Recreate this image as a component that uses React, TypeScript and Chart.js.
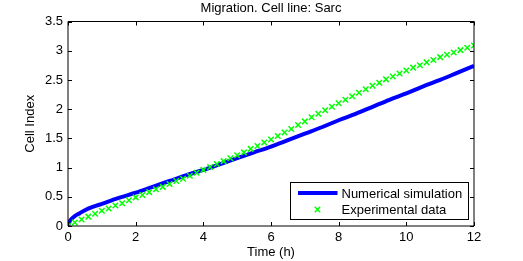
import React, { useEffect, useRef } from 'react';
import { Chart, registerables } from 'chart.js';

Chart.register(...registerables);

const chartTitle = 'Migration. Cell line: Sarc';
const xAxisLabel = 'Time (h)';
const yAxisLabel = 'Cell Index';
const simName = 'Numerical simulation';
const expName = 'Experimental data';

const xTickValues = [0, 2, 4, 6, 8, 10, 12];
const yTickValues = [0, 0.5, 1, 1.5, 2, 2.5, 3, 3.5];

const simTimes = [0, 0.05, 0.1, 0.2, 0.35, 0.5, 0.75, 1, 1.5, 2, 2.5, 3, 3.5, 4, 4.5, 5, 5.5, 6, 6.5, 7, 7.5, 8, 8.5, 9, 9.5, 10, 10.5, 11, 11.5, 12];
const simValues = [0, 0.08, 0.12, 0.17, 0.22, 0.27, 0.33, 0.38, 0.48, 0.57, 0.67, 0.77, 0.87, 0.96, 1.06, 1.16, 1.26, 1.36, 1.47, 1.58, 1.69, 1.81, 1.92, 2.04, 2.16, 2.27, 2.39, 2.5, 2.62, 2.74];

const expTimes = [
  0, 0.2, 0.4, 0.6, 0.8, 1, 1.2, 1.4, 1.6, 1.8,
  2, 2.2, 2.4, 2.6, 2.8, 3, 3.2, 3.4, 3.6, 3.8,
  4, 4.2, 4.4, 4.6, 4.8, 5, 5.2, 5.4, 5.6, 5.8,
  6, 6.2, 6.4, 6.6, 6.8, 7, 7.2, 7.4, 7.6, 7.8,
  8, 8.2, 8.4, 8.6, 8.8, 9, 9.2, 9.4, 9.6, 9.8,
  10, 10.2, 10.4, 10.6, 10.8, 11, 11.2, 11.4, 11.6, 11.8, 12,
];
const expValues = [
  0, 0.06, 0.11, 0.16, 0.21, 0.26, 0.3, 0.35, 0.39, 0.44,
  0.49, 0.53, 0.58, 0.63, 0.67, 0.72, 0.77, 0.81, 0.86, 0.91,
  0.96, 1.01, 1.06, 1.11, 1.16, 1.21, 1.26, 1.32, 1.37, 1.43,
  1.48, 1.54, 1.6, 1.66, 1.73, 1.79, 1.86, 1.92, 1.98, 2.04,
  2.1, 2.16, 2.22, 2.28, 2.34, 2.4, 2.45, 2.51, 2.56, 2.61,
  2.66, 2.71, 2.75, 2.8, 2.84, 2.89, 2.93, 2.97, 3.01, 3.05, 3.09,
];

const FONT_FAMILY = '"Liberation Sans", Arial, Helvetica, sans-serif';
const BLUE = '#0000ff';
const GREEN = '#00ff00';

const matlabPlugin = {
  id: 'matlabDecor',
  afterDatasetsDraw(chart: any) {
    const { ctx, chartArea: a } = chart;
    const xs = chart.scales.x;
    const ys = chart.scales.y;
    ctx.save();
    // axes box
    ctx.strokeStyle = '#000';
    ctx.lineWidth = 1;
    ctx.beginPath();
    ctx.moveTo(a.left, a.top);
    ctx.lineTo(a.right, a.top);
    ctx.moveTo(a.left, a.top);
    ctx.lineTo(a.left, a.bottom);
    ctx.lineTo(a.right, a.bottom);
    ctx.lineTo(a.right, a.top);
    ctx.stroke();
    // inward ticks
    const tl = 4;
    ctx.beginPath();
    xs.ticks.forEach((t: any) => {
      const px = Math.round(xs.getPixelForValue(t.value)) + 0.5;
      ctx.moveTo(px, a.bottom);
      ctx.lineTo(px, a.bottom - tl);
      ctx.moveTo(px, a.top);
      ctx.lineTo(px, a.top + tl);
    });
    ys.ticks.forEach((t: any) => {
      const py = Math.round(ys.getPixelForValue(t.value)) + 0.5;
      ctx.moveTo(a.left, py);
      ctx.lineTo(a.left + tl, py);
      ctx.moveTo(a.right, py);
      ctx.lineTo(a.right - tl, py);
    });
    ctx.stroke();

    // title
    ctx.fillStyle = '#000';
    ctx.font = `13px ${FONT_FAMILY}`;
    ctx.textAlign = 'center';
    ctx.textBaseline = 'alphabetic';
    ctx.fillText(chartTitle, (a.left + a.right) / 2, 12);

    // legend
    const bw = 178;
    const bh = 37;
    const bx = Math.round(a.right - 6 - bw) + 0.5;
    const by = Math.round(a.bottom - 7 - bh) + 0.5;
    ctx.fillStyle = '#fff';
    ctx.fillRect(bx, by, bw, bh);
    ctx.strokeStyle = '#000';
    ctx.lineWidth = 1;
    ctx.strokeRect(bx, by, bw, bh);
    // line sample
    ctx.strokeStyle = BLUE;
    ctx.lineWidth = 4;
    ctx.beginPath();
    ctx.moveTo(bx + 7.5, by + 10.5);
    ctx.lineTo(bx + 47, by + 10.5);
    ctx.stroke();
    // marker sample
    const mx = bx + 27;
    const my = by + 27;
    const r = 2.7;
    ctx.strokeStyle = GREEN;
    ctx.lineWidth = 1.5;
    ctx.beginPath();
    ctx.moveTo(mx - r, my - r);
    ctx.lineTo(mx + r, my + r);
    ctx.moveTo(mx - r, my + r);
    ctx.lineTo(mx + r, my - r);
    ctx.stroke();
    // legend text
    ctx.fillStyle = '#000';
    ctx.textAlign = 'left';
    ctx.fillText(simName, bx + 51, by + 15.2);
    ctx.fillText(expName, bx + 51, by + 31);
    ctx.restore();
  },
};

export default function App() {
  const ref = useRef<HTMLCanvasElement>(null);
  useEffect(() => {
    const font = { family: FONT_FAMILY, size: 13 };
    const chart = new Chart(ref.current as HTMLCanvasElement, {
      type: 'scatter',
      data: {
        datasets: [
          {
            label: expName,
            data: expTimes.map((t, i) => ({ x: t, y: expValues[i] })),
            showLine: false,
            pointStyle: 'crossRot',
            pointRadius: 3.9,
            pointBorderWidth: 1.5,
            borderColor: GREEN,
            backgroundColor: GREEN,
            order: 0,
          },
          {
            label: simName,
            data: simTimes.map((t, i) => ({ x: t, y: simValues[i] })),
            showLine: true,
            pointRadius: 0,
            borderWidth: 4,
            borderColor: BLUE,
            backgroundColor: BLUE,
            cubicInterpolationMode: 'monotone',
            order: 1,
          },
        ],
      },
      options: {
        responsive: false,
        animation: false,
        devicePixelRatio: 1,
        layout: { padding: { left: 0, right: 49, top: 21.5, bottom: 0 } },
        plugins: {
          legend: { display: false },
          title: { display: false },
          tooltip: { enabled: false },
        },
        scales: {
          x: {
            type: 'linear',
            min: 0,
            max: 12,
            afterBuildTicks: (s: any) => {
              s.ticks = xTickValues.map((v) => ({ value: v }));
            },
            ticks: {
              color: '#000',
              font,
              padding: 4,
              maxRotation: 0,
              autoSkip: false,
              callback: (v: any) => String(v),
            },
            grid: { display: false, drawTicks: false },
            border: { display: false },
            title: {
              display: true,
              text: xAxisLabel,
              color: '#000',
              font,
              padding: { top: 0, bottom: 1 },
            },
            afterFit: (s: any) => {
              s.height = 35;
            },
          },
          y: {
            type: 'linear',
            min: 0,
            max: 3.5,
            afterBuildTicks: (s: any) => {
              s.ticks = yTickValues.map((v) => ({ value: v }));
            },
            ticks: {
              color: '#000',
              font,
              padding: 5,
              autoSkip: false,
              callback: (v: any) => String(v),
            },
            grid: { display: false, drawTicks: false },
            border: { display: false },
            title: {
              display: true,
              text: yAxisLabel,
              color: '#000',
              font,
              padding: { top: 23, bottom: 0 },
            },
            afterFit: (s: any) => {
              s.width = 68;
            },
          },
        },
      },
      plugins: [matlabPlugin],
    } as any);
    return () => chart.destroy();
  }, []);
  return (
    <div style={{ position: 'fixed', left: 0, top: 0, width: 523, height: 261, background: '#fff' }}>
      <canvas ref={ref} width={523} height={261} style={{ display: 'block', width: 523, height: 261 }} />
    </div>
  );
}
